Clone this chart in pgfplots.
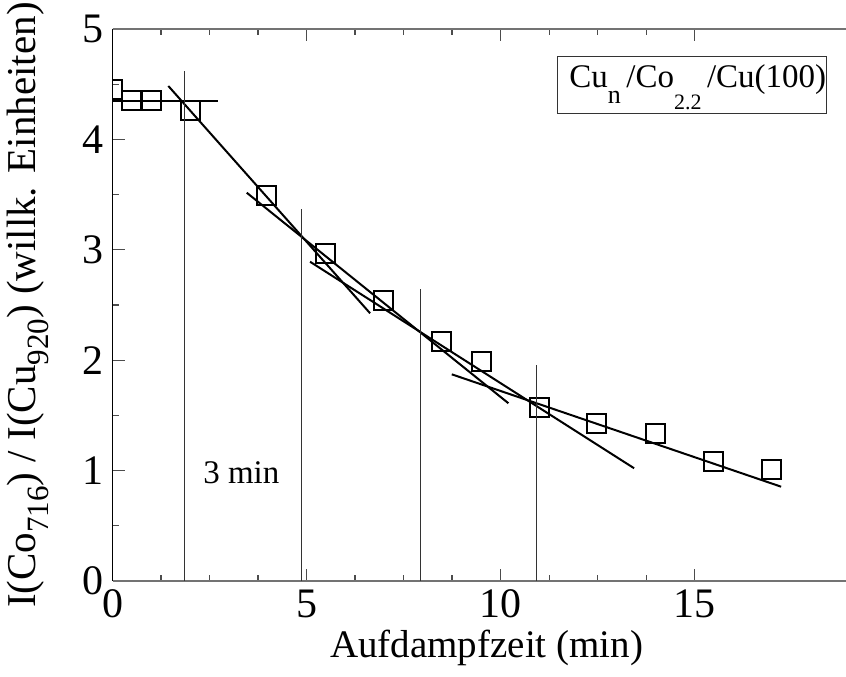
\documentclass[border=0pt]{standalone}
\usepackage{fontspec}
\setmainfont{Liberation Serif}
\usepackage{pgfplots}
\pgfplotsset{compat=1.18}
\newcommand{\lsub}[3]{\raisebox{-#2}{\fontsize{#3}{#3}\selectfont #1}}
\begin{document}
\begin{tikzpicture}
\begin{axis}[
  name=ax,
  scale only axis,
  width=366.75pt, height=276pt,
  xmin=0, xmax=18.9, ymin=0, ymax=5,
  axis x line*=box, axis y line*=left,
  separate axis lines,
  x axis line style={black!55, line width=0.9pt},
  y axis line style={black, line width=0.9pt},
  xtick={0,5,10,15}, ytick={0,1,2,3,4,5},
  minor x tick num=3, minor y tick num=1,
  tick align=inside,
  major tick length=6pt, minor tick length=3pt,
  every tick/.style={black!70, line width=0.6pt},
  /pgf/number format/assume math mode=true,
  ticklabel style={font=\fontsize{21}{23}\selectfont},
  xticklabel style={yshift=-1pt},
  yticklabel style={xshift=-1pt},
  clip marker paths=true,
  xlabel={Aufdampfzeit (min)},
  ylabel={I(Co\lsub{716}{0.32em}{15.5}) / I(Cu\lsub{920}{0.32em}{15.5}) (willk. Einheiten)},
  xlabel style={font=\fontsize{19.5}{22}\selectfont, at={(axis description cs:0.51,0)}, anchor=center, yshift=-33.5pt},
  ylabel style={font=\fontsize{20.5}{23}\selectfont, at={(axis description cs:-0.115,0.5)}, anchor=center},
]
% measured points
\addplot[only marks, mark=square, mark size=4.75pt, mark options={line width=1pt, black}]
coordinates {(0,4.45) (0.5,4.35) (1.0,4.35) (2.0,4.26) (3.97,3.49) (5.48,2.97) (6.98,2.54)
 (8.48,2.17) (9.5,1.99) (10.99,1.57) (12.48,1.43) (13.98,1.34) (15.48,1.08) (16.99,1.01)};
% fit lines
\addplot[black, line width=1pt] coordinates {(0,4.35) (2.73,4.35)};
\addplot[black, line width=1pt] coordinates {(1.438,4.484) (6.637,2.425)};
\addplot[black, line width=1pt] coordinates {(3.459,3.517) (10.201,1.610)};
\addplot[black, line width=1pt] coordinates {(5.090,2.892) (13.441,1.021)};
\addplot[black, line width=1pt] coordinates {(8.742,1.872) (17.229,0.854)};
% 3-min markers
\addplot[black!80, line width=0.5pt] coordinates {(1.85,0) (1.85,4.62)};
\addplot[black!80, line width=0.5pt] coordinates {(4.876,0) (4.876,3.37)};
\addplot[black!80, line width=0.5pt] coordinates {(7.925,0) (7.925,2.645)};
\addplot[black!80, line width=0.5pt] coordinates {(10.915,0) (10.915,1.957)};
\node[anchor=west, inner sep=0pt, font=\fontsize{16.5}{18}\selectfont] at (axis cs:2.33,0.98) {3 min};
\node[draw=black!80, line width=0.5pt, anchor=north west, inner xsep=0pt, inner ysep=0pt,
  text height=15.35pt, text depth=13.3pt, font=\fontsize{16.5}{18}\selectfont]
  at (axis cs:11.45,4.755)
  {\hspace{6pt}Cu\lsub{n}{8pt}{13}\,/Co\lsub{2.2}{11pt}{11}\,/Cu(100)\hspace{2pt}};
\end{axis}
\pgfresetboundingbox
\path (ax.south west) ++(-56.25pt,-48pt) coordinate (bl);
\path (ax.north east) ++(0pt,14.5pt) coordinate (tr);
\path (bl) rectangle (tr);
\end{tikzpicture}
\end{document}
